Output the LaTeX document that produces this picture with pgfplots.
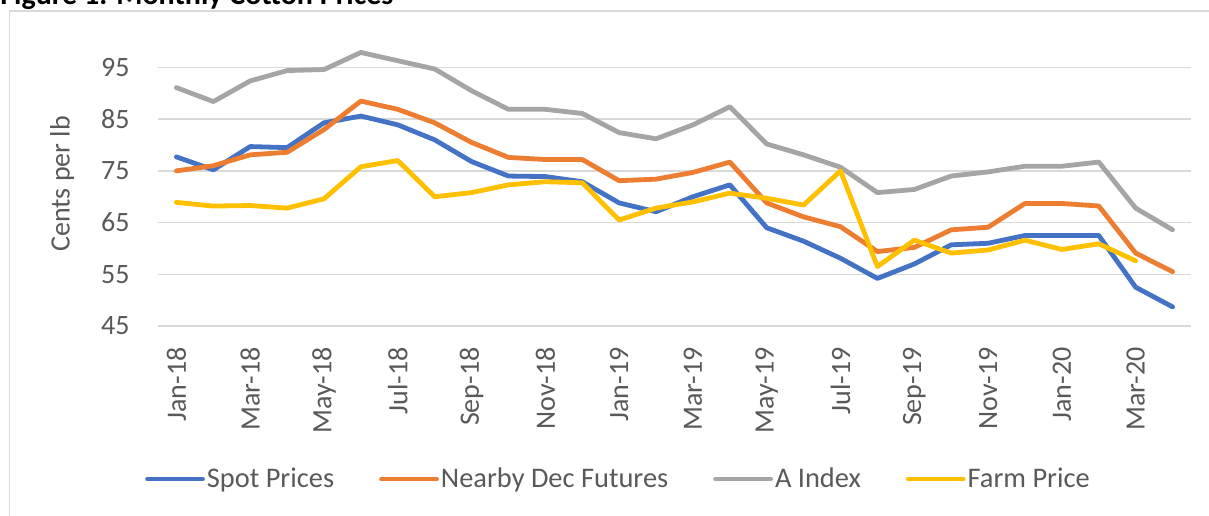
\documentclass[border=0pt]{standalone}
\usepackage{pgfplots}
\pgfplotsset{compat=1.18}
\usepackage{fontspec}
\setmainfont{Carlito}
\definecolor{cblue}{HTML}{4472C4}
\definecolor{corange}{HTML}{ED7D31}
\definecolor{cgray}{HTML}{A5A5A5}
\definecolor{cyellow}{HTML}{FFC000}
\definecolor{txt}{HTML}{595959}
\definecolor{gridc}{HTML}{D9D9D9}
\begin{document}
\begin{tikzpicture}
\useasboundingbox (0,0) rectangle (604.5pt,-257.5pt);
\clip (0,0) rectangle (604.5pt,-257.5pt);
\draw[gridc, line width=0.75pt] (4.75pt,-5.5pt) rectangle (640pt,-280pt);
\node[anchor=base west, inner sep=0pt, font=\fontsize{15}{18}\selectfont\bfseries] at (0pt,-2pt) {Figure 1. Monthly Cotton Prices};
\begin{axis}[
  at={(79pt,-163pt)}, anchor=south west,
  scale only axis, width=516.5pt, height=142.2pt,
  xmin=-0.5, xmax=27.5, ymin=45, ymax=100,
  ytick={45,55,...,95},
  xtick={0,2,...,26},
  xticklabels={Jan-18,Mar-18,May-18,Jul-18,Sep-18,Nov-18,Jan-19,Mar-19,May-19,Jul-19,Sep-19,Nov-19,Jan-20,Mar-20},
  axis line style={draw=none},
  major tick length=0pt, tick style={draw=none},
  xmajorgrids=false, ymajorgrids=true,
  y grid style={color=gridc, line width=0.75pt},
  /pgf/number format/assume math mode=true,
  tick label style={font=\fontsize{14}{17}\selectfont, text=txt, inner sep=0pt},
  xticklabel style={rotate=90, anchor=east},
  xticklabel shift=10.5pt,
  yticklabel shift=14pt,
  ylabel={Cents per lb},
  ylabel style={at={(axis description cs:-0.0929,0.5)}, anchor=center, font=\fontsize{14}{17}\selectfont, text=txt},
  legend columns=4,
  legend style={at={(axis description cs:0.4448,-0.538)}, anchor=center, draw=none, fill=none,
    font=\fontsize{14.2}{17}\selectfont, text=txt,
    nodes={inner sep=0pt},
    /tikz/every odd column/.style={column sep=1pt},
    /tikz/every even column/.style={column sep=22.5pt}},
  legend image code/.code={\draw[#1] (0pt,0pt) -- (27.5pt,0pt);},
  every axis plot/.append style={line width=2.4pt, line join=round, line cap=round},
]
\addplot[cblue] table[x=x,y=y] {
x y
0 77.7
1 75.2
2 79.7
3 79.5
4 84.3
5 85.6
6 83.9
7 81.0
8 76.8
9 74.0
10 73.9
11 72.9
12 68.8
13 67.1
14 70.0
15 72.3
16 64.0
17 61.4
18 58.1
19 54.2
20 57.0
21 60.7
22 61.0
23 62.5
24 62.5
25 62.5
26 52.5
27 48.7
};
\addlegendentry{Spot Prices}
\addplot[corange] table[x=x,y=y] {
x y
0 75.0
1 76.0
2 78.1
3 78.6
4 83.0
5 88.5
6 86.9
7 84.3
8 80.5
9 77.6
10 77.2
11 77.2
12 73.1
13 73.4
14 74.7
15 76.7
16 68.8
17 66.1
18 64.2
19 59.4
20 60.2
21 63.6
22 64.1
23 68.7
24 68.7
25 68.2
26 59.1
27 55.5
};
\addlegendentry{Nearby Dec Futures}
\addplot[cgray] table[x=x,y=y] {
x y
0 91.1
1 88.4
2 92.4
3 94.4
4 94.6
5 97.9
6 96.3
7 94.7
8 90.5
9 86.9
10 86.9
11 86.1
12 82.4
13 81.2
14 83.9
15 87.4
16 80.2
17 78.1
18 75.7
19 70.8
20 71.4
21 74.0
22 74.8
23 75.9
24 75.9
25 76.7
26 67.8
27 63.6
};
\addlegendentry{A Index}
\addplot[cyellow] table[x=x,y=y] {
x y
0 68.9
1 68.2
2 68.3
3 67.8
4 69.6
5 75.8
6 77.0
7 70.0
8 70.8
9 72.3
10 72.9
11 72.7
12 65.5
13 67.8
14 69.0
15 70.7
16 69.7
17 68.4
18 75.0
19 56.5
20 61.6
21 59.1
22 59.7
23 61.6
24 59.8
25 60.9
26 57.6
};
\addlegendentry{Farm Price}
\end{axis}
\end{tikzpicture}
\end{document}
